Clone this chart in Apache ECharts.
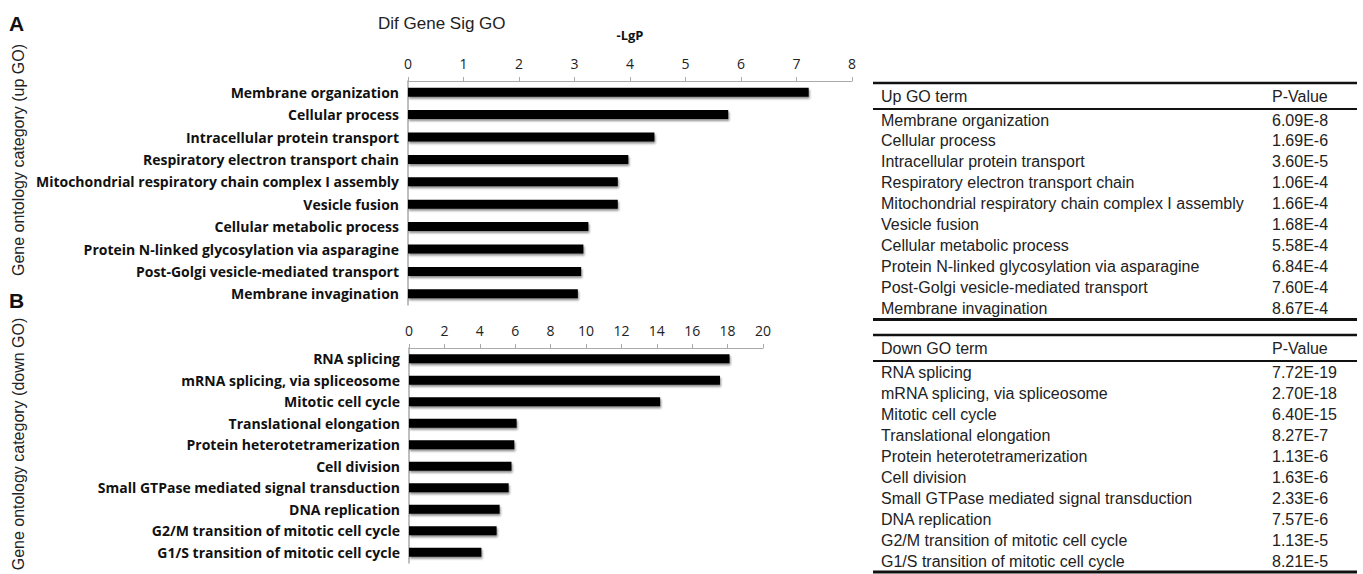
<!DOCTYPE html>
<html><head><meta charset="utf-8">
<script src="https://cdn.jsdelivr.net/npm/echarts@6/dist/echarts.min.js"></script>
<style>html,body{margin:0;padding:0;background:#fff}#c{width:1363px;height:574px}</style>
</head><body><div id="c"></div>
<script>
const upTerms = ["Membrane organization","Cellular process","Intracellular protein transport","Respiratory electron transport chain","Mitochondrial respiratory chain complex I assembly","Vesicle fusion","Cellular metabolic process","Protein N-linked glycosylation via asparagine","Post-Golgi vesicle-mediated transport","Membrane invagination"];
const upValues = [7.22, 5.77, 4.44, 3.97, 3.78, 3.78, 3.25, 3.16, 3.12, 3.06];
const upPValues = ["6.09E-8","1.69E-6","3.60E-5","1.06E-4","1.66E-4","1.68E-4","5.58E-4","6.84E-4","7.60E-4","8.67E-4"];
const downTerms = ["RNA splicing","mRNA splicing, via spliceosome","Mitotic cell cycle","Translational elongation","Protein heterotetramerization","Cell division","Small GTPase mediated signal transduction","DNA replication","G2/M transition of mitotic cell cycle","G1/S transition of mitotic cell cycle"];
const downValues = [18.11, 17.57, 14.19, 6.08, 5.95, 5.79, 5.63, 5.12, 4.95, 4.09];
const downPValues = ["7.72E-19","2.70E-18","6.40E-15","8.27E-7","1.13E-6","1.63E-6","2.33E-6","7.57E-6","1.13E-5","8.21E-5"];
const upTicks = {min:0, max:8, interval:1};
const downTicks = {min:0, max:20, interval:2};

const chart = echarts.init(document.getElementById('c'), null, {renderer:'svg'});
const labFont = {fontFamily:'Open Sans', fontWeight:'bold', fontSize:14, color:'#111'};
const tickFont = {fontFamily:'Open Sans', fontSize:14, color:'#222'};
const tabFont = 'Liberation Sans';
const barStyle = {color:'#000', shadowColor:'rgba(0,0,0,0.45)', shadowBlur:2, shadowOffsetX:1, shadowOffsetY:2};

function xAx(idx, t, name){
  return {gridIndex:idx, type:'value', position:'top', min:t.min, max:t.max, interval:t.interval,
    name:name||'', nameLocation:'middle', nameGap:40,
    nameTextStyle:{fontFamily:'Open Sans', fontWeight:'bold', fontSize:13, color:'#111'},
    axisLine:{show:true, lineStyle:{color:'#aaa', width:1}},
    axisTick:{show:true, length:4, inside:false, lineStyle:{color:'#aaa'}},
    axisLabel:Object.assign({margin:11}, tickFont), splitLine:{show:false}};
}
function yAx(idx, cats){
  return {gridIndex:idx, type:'category', data:cats, inverse:true,
    axisLine:{show:true, lineStyle:{color:'#aaa', width:1.5}}, axisTick:{show:false},
    axisLabel:Object.assign({margin:9}, labFont)};
}

const graphic = [];
function txt(x,y,s,font,extra){
  graphic.push(Object.assign({type:'text', style:Object.assign({x:x,y:y,text:s,fill:'#222',font:font,textVerticalAlign:'middle'}, extra||{})}));
}
function line(x1,y,x2,w){
  graphic.push({type:'line', shape:{x1:x1,y1:y,x2:x2,y2:y}, style:{stroke:'#111', lineWidth:w}});
}
txt(9, 23, 'A', 'bold 21px Liberation Sans', {fill:'#111'});
txt(9, 300, 'B', 'bold 21px Liberation Sans', {fill:'#111'});
txt(378, 23, 'Dif Gene Sig GO', '17px Liberation Sans');
graphic.push({type:'text', x:18, y:160, rotation:Math.PI/2, style:{x:0,y:0,text:'Gene ontology category (up GO)', font:'16px Liberation Sans', fill:'#222', textAlign:'center', textVerticalAlign:'middle'}});
graphic.push({type:'text', x:18, y:444, rotation:Math.PI/2, style:{x:0,y:0,text:'Gene ontology category (down GO)', font:'16px Liberation Sans', fill:'#222', textAlign:'center', textVerticalAlign:'middle'}});

function table(top, head, terms, pvals, step, bottom){
  line(873, top, 1357, 2.5);
  txt(881, top+13, head, '16px '+tabFont);
  txt(1272, top+13, 'P-Value', '16px '+tabFont);
  line(873, top+26, 1357, 2);
  terms.forEach((t,i)=>{
    txt(881, top+37+i*step, t, '16px '+tabFont);
    txt(1272, top+37+i*step, pvals[i], '16px '+tabFont);
  });
  line(873, bottom, 1357, 3);
}
table(83, 'Up GO term', upTerms, upPValues, 20.9, 319.5);
table(335, 'Down GO term', downTerms, downPValues, 21.1, 572);

chart.setOption({
  animation:false,
  grid:[{left:408, top:81, width:444, height:224}, {left:409, top:348, width:354, height:215}],
  xAxis:[xAx(0, upTicks, '-LgP'), xAx(1, downTicks)],
  yAxis:[yAx(0, upTerms), yAx(1, downTerms)],
  series:[
    {type:'bar', xAxisIndex:0, yAxisIndex:0, data:upValues, barWidth:9, itemStyle:barStyle},
    {type:'bar', xAxisIndex:1, yAxisIndex:1, data:downValues, barWidth:9, itemStyle:barStyle}
  ],
  graphic:graphic
});
</script></body></html>
